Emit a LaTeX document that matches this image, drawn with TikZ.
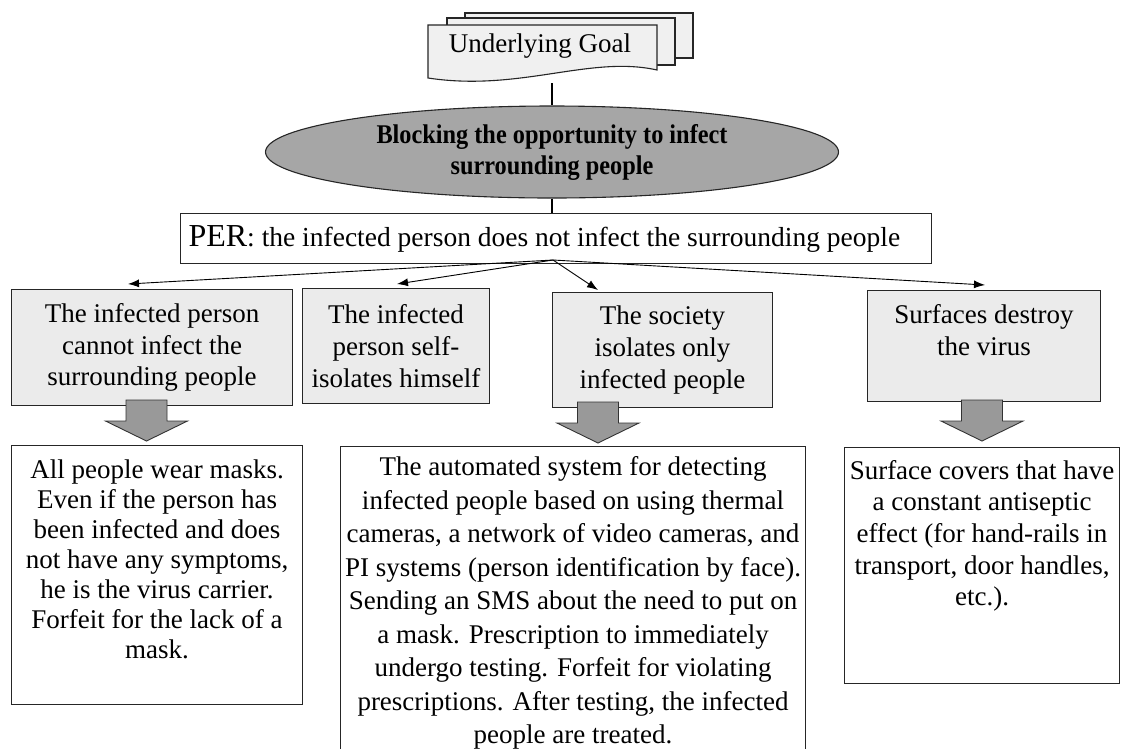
\documentclass[tikz,border=0pt]{standalone}
\usepackage{fontspec}
\setmainfont{Liberation Serif}
\usetikzlibrary{arrows.meta,calc,shapes.geometric}
\newcommand\BlkArrow[2]{%
  \draw[blk] ({#1-20.5},{#2}) -- ({#1+20.5},{#2}) -- ({#1+20.5},{#2+21}) -- ({#1+41},{#2+21})
    -- ({#1},{#2+41}) -- ({#1-41},{#2+21}) -- ({#1-20.5},{#2+21}) -- cycle;}
\newcommand\TxtA{\fontsize{27}{31.7}\selectfont}
\begin{document}
\begin{tikzpicture}[x=1pt,y=-1pt,
  box/.style={draw=black!85, line width=1.1pt, fill=black!8, inner sep=0pt, anchor=north west},
  wbox/.style={box, fill=white},
  doc/.style={draw=black!85, line width=1.1pt, fill=black!6},
  arr/.style={-{Latex[length=11pt,width=8pt]}, line width=0.9pt},
  blk/.style={draw=black!80, line width=0.9pt, fill=black!40},
  conn/.style={line width=1.1pt}]
\useasboundingbox (0,0) rectangle (1123,748);
\fill[white] (0,0) rectangle (1123,748);

% Underlying goal (multi-document shape)
\draw[doc] (465,13) rectangle (693,58);
\draw[doc] (447,18) rectangle (675,65);
\draw[doc] (428,25) -- (657,25) -- (657,70) .. controls (590,55) and (520,92) .. (428,78) -- cycle;
\node[font=\TxtA] (ug) at (540,46) {Underlying Goal};
\coordinate (ugb) at (552,83);

% ellipse
\node[ellipse, draw=black!85, line width=1.1pt, fill=black!35, minimum width=573pt, minimum height=92pt, inner sep=0pt, align=center,
  font=\bfseries\fontsize{27}{31}\selectfont\addfontfeature{FakeStretch=0.9}] (ell) at (552,152) {Blocking the opportunity to infect\\surrounding people};
\draw[conn] (ugb) -- (ell.north);

% PER box
\node[wbox] (per) at (180,213) {\parbox[b][50pt][c]{751pt}{\hspace*{8pt}{\fontsize{32}{32}\selectfont PER}\fontsize{27.5}{32}\selectfont: the infected person does not infect the surrounding people}};
\draw[conn] (ell.south) -- (ell.south |- per.north);

% second level boxes
\node[box] (b1) at (11,289) {\parbox[b][116pt][c]{281pt}{\centering\TxtA The infected person\\cannot infect the\\surrounding people}};
\node[box] (b2) at (302,288) {\parbox[b][115pt][c]{187pt}{\centering\TxtA The infected\\person self-\\isolates himself}};
\node[box] (b3) at (552,292) {\parbox[b][115pt][c]{220pt}{\centering\TxtA The society\\isolates only\\infected people}};
\node[box] (b4) at (867,290) {\parbox[b][111pt][t]{233pt}{\vspace*{14pt}\centering\TxtA Surfaces destroy\\the virus}};

\coordinate (hub) at (553,260);
\draw[arr] (hub) -- ($(b1.north west)+(117,-5)$);
\draw[arr] (hub) -- ($(b2.north west)+(95,-4)$);
\draw[arr] (hub) -- ($(b3.north west)+(46,-2)$);
\draw[arr] (hub) -- ($(b4.north west)+(118,-5)$);

% block arrows
\BlkArrow{146.5}{400}
\BlkArrow{598}{402}
\BlkArrow{982}{400}

% bottom boxes
\node[wbox] (b5) at (11,445) {\parbox[b][259pt][t]{291pt}{\vspace*{14pt}\centering\fontsize{27}{30}\selectfont All people wear masks.\\Even if the person has\\been infected and does\\not have any symptoms,\\he is the virus carrier.\\Forfeit for the lack of a\\mask.}};
\node[wbox] (b6) at (340,446) {\parbox[b][320pt][t]{465pt}{\vspace*{10pt}\centering\fontsize{27}{33.5}\selectfont The automated system for detecting\\infected people based on using thermal\\cameras, a network of video cameras, and\\PI systems (person identification by face).\\Sending an SMS about the need to put on\\a mask. Prescription to immediately\\undergo testing. Forfeit for violating\\prescriptions. After testing, the infected\\people are treated.}};
\node[wbox] (b7) at (844,447) {\parbox[b][236pt][t]{275pt}{\vspace*{12.5pt}\centering\TxtA Surface covers that have\\a constant antiseptic\\effect (for hand-rails in\\transport, door handles,\\etc.).}};
\end{tikzpicture}
\end{document}
